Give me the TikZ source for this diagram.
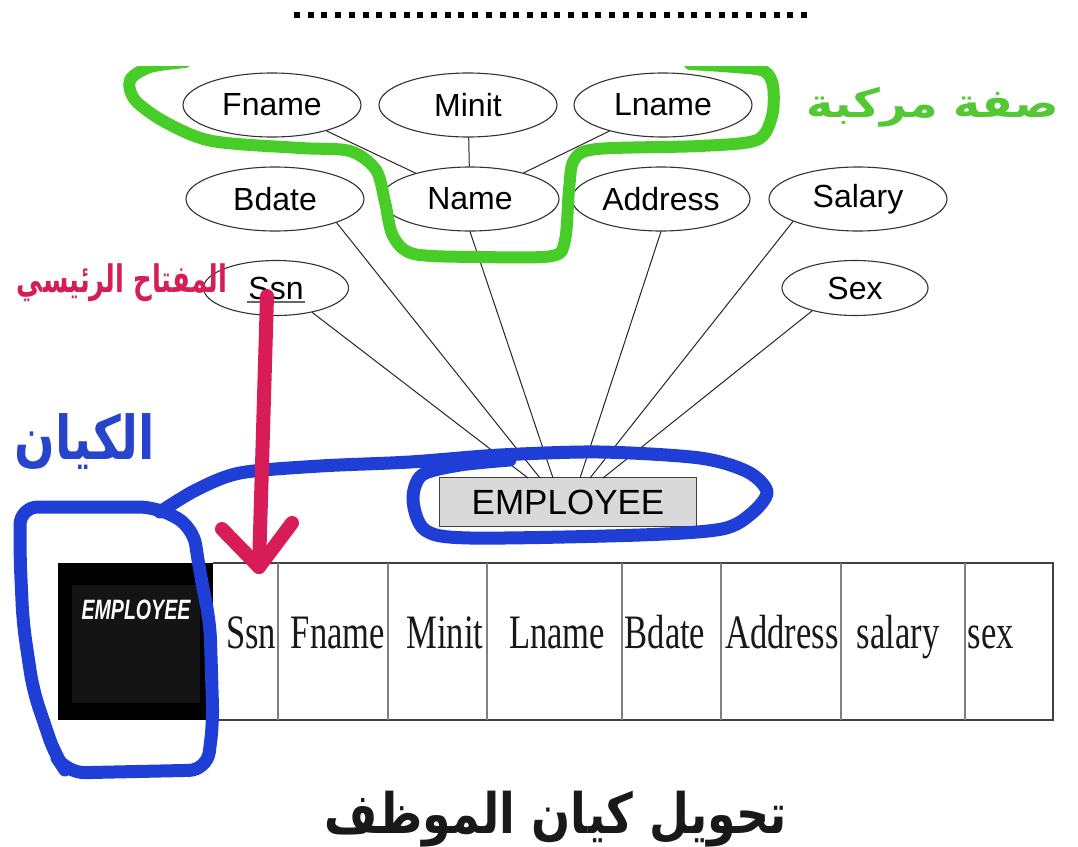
\documentclass[tikz,border=0pt]{standalone}
\usepackage{fontspec}
\usepackage{graphicx}
\setmainfont{Liberation Sans}
\newfontfamily\serifc{Liberation Serif}
\newfontfamily\arab[Script=Arabic]{DejaVu Sans}
\usetikzlibrary{shapes.geometric,calc}
\TeXXeTstate=1
\definecolor{grn}{RGB}{72,204,40}
\definecolor{grntxt}{RGB}{84,200,52}
\definecolor{blu}{RGB}{30,62,214}
\definecolor{blutxt}{RGB}{40,68,204}
\definecolor{pnk}{RGB}{216,28,88}
\definecolor{pnktxt}{RGB}{212,30,84}
\newcommand\cnd[1]{\scalebox{0.72}[1]{#1}}
\begin{document}
\begin{tikzpicture}[x=1pt,y=-1pt,
  attr/.style={ellipse,draw=black!80,line width=1.1pt,minimum width=178pt,minimum height=64pt,inner sep=0pt,font=\fontsize{32}{34}\selectfont},
  conn/.style={line width=1pt,draw=black!85},
  cell/.style={anchor=base,inner sep=0pt,font=\serifc\fontsize{48}{50}\selectfont,text=black!90},
  hand/.style={line width=13pt,line cap=round,line join=round},
  arabic/.style={inner sep=0pt,font=\arab\bfseries}]
\useasboundingbox (0,0) rectangle (1078,846);
\fill[white] (0,0) rectangle (1078,846);
% dotted rule
\draw[line width=6pt,dash pattern=on 6pt off 7.7pt] (294,14.5) -- (808,14.5);
% attributes
\node[attr] (fname) at (272,105) {Fname};
\node[attr] (minit) at (468,105) {Minit};
\node[attr] (lname) at (663,105) {Lname};
\node[attr] (bdate) at (275,199) {Bdate};
\node[attr] (name) at (470,199) {Name};
\node[attr] (address) at (661,199) {Address};
\node[attr] (salary) at (858,199) {Salary};
\node[attr,minimum width=145pt,minimum height=55pt] (ssn) at (276,288) {Ssn};
\node[attr,minimum width=146pt,minimum height=55pt] (sex) at (855,288) {Sex};
\draw[black!60,line width=1.4pt] ($(ssn.center)+(-29,14)$) -- ($(ssn.center)+(29,14)$);
% entity
\node[draw=black!75,fill=black!15,line width=1pt,minimum width=257pt,minimum height=49pt,inner sep=0pt,font=\fontsize{35}{38}\selectfont] (emp) at (568,502) {EMPLOYEE};
\coordinate (e1) at (528,478);
\coordinate (e2) at (540,478);
\coordinate (e3) at (553,478);
\coordinate (e4) at (580,478);
\coordinate (e5) at (590,478);
\coordinate (e6) at (603,478);
\draw[conn] (fname) -- (name);
\draw[conn] (minit) -- (name);
\draw[conn] (lname) -- (name);
\draw[conn] (ssn.326) -- (e1);
\draw[conn] (bdate.339) -- (e2);
\draw[conn] (name.south) -- (e3);
\draw[conn] (address.south) -- (e4);
\draw[conn] (salary.199) -- (e5);
\draw[conn] (sex.208) -- (e6);
% relation table
\fill[black] (58,563) rectangle (213,720);
\fill[black!92] (72,585) rectangle (200,703);
\node[text=white,inner sep=0pt,font=\bfseries\itshape\fontsize{28}{30}\selectfont] (empb) at (136,610) {\scalebox{0.7}[1]{EMPLOYEE}};
\draw[black!75,line width=1.4pt] (213,563) -- (1053,563) -- (1053,720) -- (213,720);
\foreach \x in {278,388,487,622,721,841,965} \draw[black!50,line width=1.2pt] (\x,563) -- (\x,720);
\node[cell] (cssn) at (251,648) {\cnd{Ssn}};
\node[cell] (cfname) at (338,648) {\cnd{Fname}};
\node[cell] (cminit) at (445,648) {\cnd{Minit}};
\node[cell] (clname) at (557,648) {\cnd{Lname}};
\node[cell] (cbdate) at (665,648) {\cnd{Bdate}};
\node[cell] (caddress) at (782,648) {\cnd{Address}};
\node[cell] (csalary) at (898,648) {\cnd{salary}};
\node[cell] (csex) at (991,648) {\cnd{sex}};
% green composite-attribute outline (cut at the top edge of the drawing)
\begin{scope}
\clip (0,66) rectangle (1078,846);
\draw[grn,hand,line width=12pt] plot[smooth,tension=0.5] coordinates {(185,62) (150,67) (130,80) (135,100) (165,122) (212,141) (300,148) (350,151) (376,170) (385,202) (393,236) (414,254) (480,257) (552,256) (565,240) (569,190) (574,160) (597,149) (700,146) (757,140) (772,116) (773,86) (764,71) (735,67) (690,64)};
\end{scope}
% blue outlines
\draw[blu,hand,rounded corners=18pt] (20,507) -- (157,507) -- (193,527) -- (200,573) -- (210,623) -- (213,723) -- (207,770) -- (67,773) -- (55,755) -- (33,690) -- (23,623) -- (20,557) -- cycle;
\draw[blu,hand] plot[smooth,tension=0.5] coordinates {(160,512) (196,490) (240,473) (320,466) (410,462) (500,455) (600,452) (700,458) (748,472) (767,492) (752,513) (722,529) (640,535) (470,538) (425,530) (413,500) (422,475) (460,465) (510,460)};
% pink key arrow
\coordinate (ptip) at (259,567);
\draw[pnk,hand,line width=14pt] ([xshift=-9pt,yshift=20pt]ssn.south) -- (ptip);
\draw[pnk,hand,line width=14pt] ([shift={(-37,-38)}]ptip) -- (ptip) -- ([shift={(33,-44)}]ptip);
% Arabic labels
\node[arabic,text=grntxt] (lcomp) at (933,107) {\resizebox*{252pt}{40pt}{\beginR صفة مركبة\endR}};
\node[arabic,text=pnktxt] (lkey) at (122,283) {\resizebox*{210pt}{38pt}{\beginR المفتاح الرئيسي\endR}};
\node[arabic,text=blutxt] (lent) at (85,442) {\resizebox*{140pt}{56pt}{\beginR الكيان\endR}};
\node[arabic,text=black!90] (ltitle) at (556,819) {\resizebox*{462pt}{56pt}{\beginR تحويل كيان الموظف\endR}};
\end{tikzpicture}
\end{document}
